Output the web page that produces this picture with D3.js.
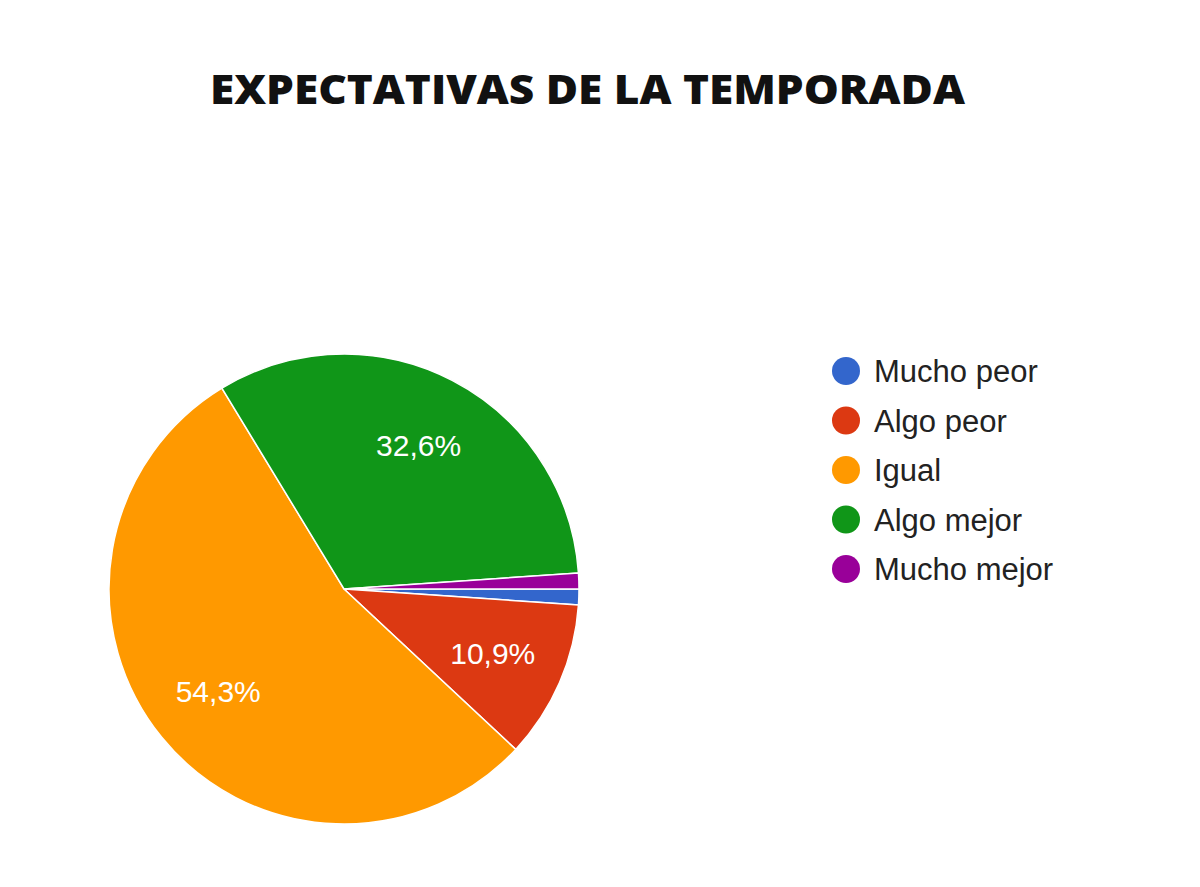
<!DOCTYPE html>
<html>
<head>
<meta charset="utf-8">
<script src="https://cdn.jsdelivr.net/npm/d3@7"></script>
<style>
  html, body { margin: 0; padding: 0; background: #fff; }
</style>
</head>
<body>
<svg id="chart" width="1200" height="887"></svg>
<script>
// answers per option (n = 92)
const categories = ["Mucho peor", "Algo peor", "Igual", "Algo mejor", "Mucho mejor"];
const counts = [1, 10, 50, 30, 1];
const colors = ["#3366cc", "#dc3912", "#ff9900", "#109618", "#990099"];
const title = "EXPECTATIVAS DE LA TEMPORADA";

const svg = d3.select("#chart");

svg.append("text")
  .attr("x", 210).attr("y", 104)
  .attr("textLength", 755)
  .attr("lengthAdjust", "spacingAndGlyphs")
  .style("font-family", "'Open Sans', Inter, sans-serif")
  .style("font-weight", 800)
  .style("font-size", "40px")
  .attr("fill", "#111")
  .text(title);

const cx = 344, cy = 589, R = 235;
const total = d3.sum(counts);
const data = categories.map((c, i) => ({ name: c, value: counts[i] }));

const color = d3.scaleOrdinal().domain(categories).range(colors);

// starts at 3 o'clock, clockwise, keep input order
const pie = d3.pie().value(d => d.value).sort(null)
  .startAngle(Math.PI / 2).endAngle(Math.PI / 2 + 2 * Math.PI);
const arcs = pie(data);

const arc = d3.arc().innerRadius(0).outerRadius(R);
const labelArc = d3.arc().innerRadius(R * 0.69).outerRadius(R * 0.69);

const g = svg.append("g").attr("transform", `translate(${cx},${cy})`);

g.selectAll("path")
  .data(arcs)
  .join("path")
  .attr("d", arc)
  .attr("fill", d => color(d.data.name))
  .attr("stroke", "#fff")
  .attr("stroke-width", 1.5);

const fmt = v => (v * 100).toFixed(1).replace(".", ",") + "%";

g.selectAll("text.lbl")
  .data(arcs.filter(d => d.data.value / total > 0.05))
  .join("text")
  .attr("class", "lbl")
  .attr("transform", d => `translate(${labelArc.centroid(d)})`)
  .attr("text-anchor", "middle")
  .attr("dy", "0.36em")
  .attr("fill", "#fff")
  .style("font-family", "'Liberation Sans', Arial, sans-serif")
  .style("font-size", "30px")
  .text(d => fmt(d.data.value / total));

// legend
const legend = svg.append("g").attr("transform", "translate(846,371)");
const row = legend.selectAll("g")
  .data(categories)
  .join("g")
  .attr("transform", (d, i) => `translate(0,${i * 49.5})`);

row.append("circle")
  .attr("r", 14)
  .attr("fill", d => color(d));

row.append("text")
  .attr("x", 28)
  .attr("dy", "0.36em")
  .attr("fill", "#222")
  .style("font-family", "'Liberation Sans', Arial, sans-serif")
  .style("font-size", "31px")
  .text(d => d);
</script>
</body>
</html>
